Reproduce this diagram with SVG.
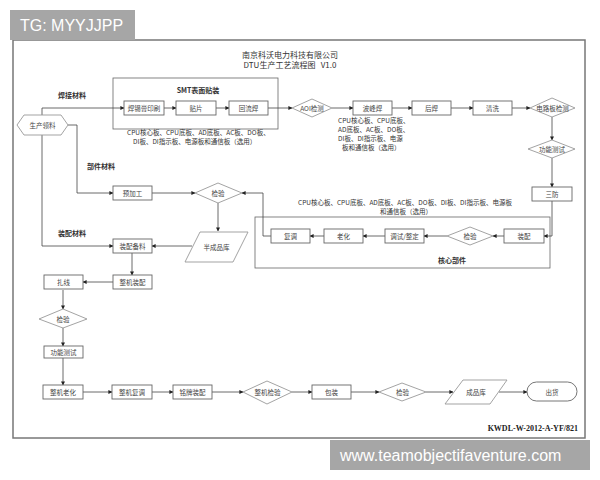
<svg xmlns="http://www.w3.org/2000/svg" width="600" height="480" viewBox="0 0 600 480">
<defs>
<style>
.frame{fill:#fff;stroke:#777;stroke-width:1.5}
.grp{fill:none;stroke:#666;stroke-width:0.8}
.box{fill:#fff;stroke:#666;stroke-width:0.9}
.dia{fill:#fff;stroke:#999;stroke-width:0.9}
.ln{fill:none;stroke:#444;stroke-width:0.8;marker-end:url(#ah)}
.t{font-family:"Noto Sans CJK SC","Noto Sans",sans-serif;font-size:6.5px;fill:#444;text-anchor:middle;dominant-baseline:central}
.s{font-family:"Noto Sans CJK SC","Noto Sans",sans-serif;font-size:6.5px;fill:#333}
.b{font-family:"Noto Sans CJK SC","Noto Sans",sans-serif;font-size:7px;fill:#333;font-weight:bold;text-anchor:middle;dominant-baseline:central}
.wm{font-family:"Liberation Sans","DejaVu Sans",sans-serif;fill:#fff}
</style>
<marker id="ah" viewBox="0 0 10 10" refX="9" refY="5" markerWidth="4" markerHeight="4" orient="auto" markerUnits="userSpaceOnUse">
<path d="M0,0 L10,5 L0,10 z" fill="#222"/>
</marker>
</defs>
<rect width="600" height="480" fill="#fff"/>
<rect class="frame" x="13" y="40" width="572" height="398"/>

<text class="t" x="290" y="54" style="font-size:8px;fill:#333">南京科沃电力科技有限公司</text>
<text class="t" x="290" y="64" style="font-size:8px;fill:#333" xml:space="preserve">DTU生产工艺流程图   V1.0</text>

<g id="smt-group">
<rect class="grp" x="113" y="78" width="165" height="51"/>
<text class="b" x="198" y="90">SMT表面贴装</text>
</g>
<g id="core-group">
<rect class="grp" x="255" y="217" width="295" height="51"/>
<text class="b" x="452" y="260">核心部件</text>
</g>

<g id="labels">
<text class="b" x="72" y="95">焊接材料</text>
<text class="b" x="101" y="166">部件材料</text>
<text class="b" x="72" y="233">装配材料</text>
<text class="s" x="127" y="135">CPU核心板、CPU底板、AD底板、AC板、DO板、</text>
<text class="s" x="133" y="144">DI板、DI指示板、电源板和通信板（选用）</text>
<text class="s" x="338" y="123">CPU核心板、CPU底板、</text>
<text class="s" x="338" y="132">AD底板、AC板、DO板、</text>
<text class="s" x="338" y="141">DI板、DI指示板、电源</text>
<text class="s" x="342" y="150">板和通信板（选用）</text>
<text class="s" x="298" y="205">CPU核心板、CPU底板、AD底板、AC板、DO板、DI板、DI指示板、电源板</text>
<text class="s" x="380" y="214">和通信板（选用）</text>
</g>

<g id="connectors">
<path class="ln" d="M42,115 V108 H124"/>
<path class="ln" d="M68,125 H77 V193 H113"/>
<path class="ln" d="M42,135 V246 H113"/>
<path class="ln" d="M164,108 H176"/>
<path class="ln" d="M216,108 H229"/>
<path class="ln" d="M268,108 H292"/>
<path class="ln" d="M332,108 H353"/>
<path class="ln" d="M392,108 H412"/>
<path class="ln" d="M451,108 H473"/>
<path class="ln" d="M512,108 H530"/>
<path class="ln" d="M552,117 V140"/>
<path class="ln" d="M552,158 V187"/>
<path class="ln" d="M552,201 V236 H544"/>
<path class="ln" d="M504,236 H493"/>
<path class="ln" d="M447,236 H424"/>
<path class="ln" d="M385,236 H363"/>
<path class="ln" d="M324,236 H310"/>
<path class="ln" d="M271,236 H263 V193 H242"/>
<path class="ln" d="M152,193 H195"/>
<path class="ln" d="M218,203 V231"/>
<path class="ln" d="M192,246 H152"/>
<path class="ln" d="M132,253 V275"/>
<path class="ln" d="M113,282 H83"/>
<path class="ln" d="M63,290 V309"/>
<path class="ln" d="M63,328 V346"/>
<path class="ln" d="M63,358 V385"/>
<path class="ln" d="M83,392 H112"/>
<path class="ln" d="M152,392 H173"/>
<path class="ln" d="M212,392 H243"/>
<path class="ln" d="M292,392 H312"/>
<path class="ln" d="M351,392 H379"/>
<path class="ln" d="M426,392 H453"/>
<path class="ln" d="M499,392 H527"/>
</g>

<g id="n-lingliao"><polygon class="dia" points="17,125 24,115 61,115 68,125 61,135 24,135"/><text class="t" x="42.5" y="125">生产领料</text></g>
<g id="n-hanxi"><rect class="box" x="124" y="101" width="40" height="14"/><text class="t" x="144" y="108">焊锡膏印刷</text></g>
<g id="n-tiepian"><rect class="box" x="176" y="101" width="40" height="14"/><text class="t" x="196" y="108">贴片</text></g>
<g id="n-huiliu"><rect class="box" x="229" y="101" width="39" height="14"/><text class="t" x="248.5" y="108">回流焊</text></g>
<g id="n-aoi"><polygon class="dia" points="292,108 312,99 332,108 312,117"/><text class="t" x="312" y="108">AOI检测</text></g>
<g id="n-bofeng"><rect class="box" x="353" y="101" width="39" height="14"/><text class="t" x="372.5" y="108">波峰焊</text></g>
<g id="n-houhan"><rect class="box" x="412" y="101" width="39" height="14"/><text class="t" x="431.5" y="108">后焊</text></g>
<g id="n-qingxi"><rect class="box" x="473" y="101" width="39" height="14"/><text class="t" x="492.5" y="108">清洗</text></g>
<g id="n-dianlu"><polygon class="dia" points="530,108 552,98 575,108 552,117"/><text class="t" x="552.5" y="108">电路板检测</text></g>
<g id="n-gongneng1"><polygon class="dia" points="528,149 552,140 575,149 552,158"/><text class="t" x="552" y="149">功能测试</text></g>
<g id="n-sanfang"><rect class="box" x="532" y="187" width="40" height="14"/><text class="t" x="552" y="194">三防</text></g>
<g id="n-zhuangpei"><rect class="box" x="504" y="229" width="40" height="14"/><text class="t" x="524" y="236">装配</text></g>
<g id="n-jianyan2"><polygon class="dia" points="447,236 470,227 493,236 470,245"/><text class="t" x="470" y="236">检验</text></g>
<g id="n-tiaoshi"><rect class="box" x="385" y="229" width="39" height="14"/><text class="t" x="404.5" y="236">调试/整定</text></g>
<g id="n-laohua"><rect class="box" x="324" y="229" width="39" height="14"/><text class="t" x="343.5" y="236">老化</text></g>
<g id="n-fudiao"><rect class="box" x="271" y="229" width="39" height="14"/><text class="t" x="290.5" y="236">复调</text></g>
<g id="n-yujiagong"><rect class="box" x="113" y="186" width="39" height="14"/><text class="t" x="132.5" y="193">预加工</text></g>
<g id="n-jianyan1"><polygon class="dia" points="195,193 218,183 242,193 218,203"/><text class="t" x="218" y="193">检验</text></g>
<g id="n-banchengpin"><polygon class="dia" points="200,232 248,232 233,262 185,262"/><text class="t" x="216.5" y="247">半成品库</text></g>
<g id="n-beiliao"><rect class="box" x="113" y="239" width="39" height="14"/><text class="t" x="132.5" y="246">装配备料</text></g>
<g id="n-zhengji"><rect class="box" x="113" y="275" width="39" height="14"/><text class="t" x="132.5" y="282">整机装配</text></g>
<g id="n-zhaxian"><rect class="box" x="44" y="275" width="39" height="14"/><text class="t" x="63.5" y="282">扎线</text></g>
<g id="n-jianyan3"><polygon class="dia" points="39,319 63,309 87,319 63,328"/><text class="t" x="63" y="319">检验</text></g>
<g id="n-gongneng2"><rect class="box" x="44" y="346" width="39" height="12"/><text class="t" x="63.5" y="352">功能测试</text></g>
<g id="n-zjlaohua"><rect class="box" x="43" y="385" width="40" height="14"/><text class="t" x="63" y="392">整机老化</text></g>
<g id="n-zjfudiao"><rect class="box" x="112" y="385" width="40" height="14"/><text class="t" x="132" y="392">整机复调</text></g>
<g id="n-mingpai"><rect class="box" x="173" y="385" width="39" height="14"/><text class="t" x="192.5" y="392">铭牌装配</text></g>
<g id="n-zjjianyan"><polygon class="dia" points="243,392 267,381 292,392 267,404"/><text class="t" x="267.5" y="392">整机检验</text></g>
<g id="n-baozhuang"><rect class="box" x="312" y="385" width="39" height="14"/><text class="t" x="331.5" y="392">包装</text></g>
<g id="n-jianyan4"><polygon class="dia" points="379,392 402,383 426,392 402,401"/><text class="t" x="402.5" y="392">检验</text></g>
<g id="n-chengpin"><polygon class="dia" points="463,380 507,380 490,404 445,404"/><text class="t" x="476" y="392">成品库</text></g>
<g id="n-chuhuo"><rect class="box" x="527" y="382" width="50" height="19" rx="9.5"/><text class="t" x="552" y="391.5">出货</text></g>

<text x="578" y="431" style="font-family:'Liberation Serif',serif;font-size:8px;font-weight:bold;fill:#222;text-anchor:end">KWDL-W-2012-A-YF/821</text>

<g id="wm1"><rect x="10" y="10" width="125" height="30" fill="#a6a6a6"/><text class="wm" x="20" y="31" style="font-size:16px">TG: MYYJJPP</text></g>
<g id="wm2"><rect x="330" y="440" width="260" height="30" fill="#a6a6a6"/><text class="wm" x="340" y="461" style="font-size:16px">www.teamobjectifaventure.com</text></g>
</svg>
